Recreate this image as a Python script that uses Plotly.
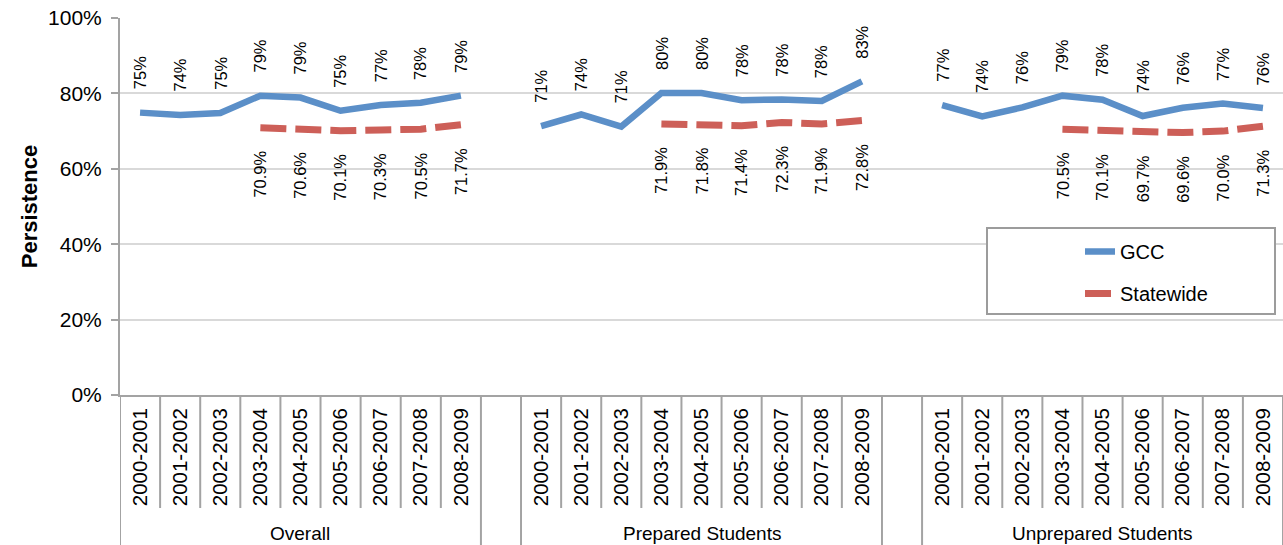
import plotly.graph_objects as go

# ---------------- data ----------------
years = ["2000-2001", "2001-2002", "2002-2003", "2003-2004", "2004-2005",
         "2005-2006", "2006-2007", "2007-2008", "2008-2009"]
groups = ["Overall", "Prepared Students", "Unprepared Students"]

gcc_overall = [74.9, 74.3, 74.8, 79.4, 78.9, 75.4, 76.9, 77.5, 79.4]
gcc_prepared = [71.3, 74.4, 71.2, 80.1, 80.1, 78.2, 78.4, 78.0, 83.2]
gcc_unprepared = [76.9, 73.9, 76.3, 79.4, 78.3, 74.0, 76.2, 77.3, 76.1]

state_overall = [None, None, None, 70.9, 70.6, 70.1, 70.3, 70.5, 71.7]
state_prepared = [None, None, None, 71.9, 71.8, 71.4, 72.3, 71.9, 72.8]
state_unprepared = [None, None, None, 70.5, 70.1, 69.7, 69.6, 70.0, 71.3]

y_ticks = [0, 20, 40, 60, 80, 100]
y_tick_labels = ["0%", "20%", "40%", "60%", "80%", "100%"]

gcc_series = [gcc_overall, gcc_prepared, gcc_unprepared]
state_series = [state_overall, state_prepared, state_unprepared]

# ---------------- styling ----------------
FONT = "Liberation Sans, Arial, Helvetica, sans-serif"
BLUE = "#5B8FC8"
RED = "#CD5F58"
GRID = "#D9D9D9"
AXIS = "#A3A3A3"

n = len(years)
slot = n + 1  # one blank category between groups
n_slots = slot * len(groups) - 1

fig = go.Figure()

# build x/y for both series with gaps between groups
gx, gy, sx, sy = [], [], [], []
tickvals, ticktext = [], []
for g, (gv, sv) in enumerate(zip(gcc_series, state_series)):
    for i in range(n):
        pos = g * slot + i
        tickvals.append(pos)
        ticktext.append(years[i])
        gx.append(pos); gy.append(gv[i])
        sx.append(pos); sy.append(sv[i])
    gx.append(None); gy.append(None)
    sx.append(None); sy.append(None)

fig.add_trace(go.Scatter(x=gx, y=gy, mode="lines", name="GCC",
                         line=dict(color=BLUE, width=6.5),
                         connectgaps=False, legendgroup="a", hoverinfo="skip"))
fig.add_trace(go.Scatter(x=sx, y=sy, mode="lines", name="Statewide",
                         line=dict(color=RED, width=7, dash="26px,9px"),
                         connectgaps=False, legendgroup="b", hoverinfo="skip"))

annotations = []
# data labels
for x, y in zip(gx, gy):
    if y is None:
        continue
    annotations.append(dict(x=x, y=y, xref="x", yref="y", text=f"{y:.0f}%",
                            textangle=-90, showarrow=False, yanchor="bottom",
                            xanchor="center", yshift=21,
                            font=dict(family=FONT, size=16.5, color="black")))
for x, y in zip(sx, sy):
    if y is None:
        continue
    annotations.append(dict(x=x, y=y, xref="x", yref="y", text=f"{y:.1f}%",
                            textangle=-90, showarrow=False, yanchor="top",
                            xanchor="center", yshift=-21,
                            font=dict(family=FONT, size=16.5, color="black")))

# group labels
plot_h = 545 - 18 - 150
for g, name in enumerate(groups):
    annotations.append(dict(x=g * slot + (n - 1) / 2, y=-(533 - 395) / plot_h,
                            xref="x", yref="paper", text=name, showarrow=False,
                            xanchor="center", yanchor="middle",
                            font=dict(family=FONT, size=19, color="black")))

# divider shapes for the category axis
shapes = []
row1_bottom = -(508 - 395) / plot_h
for b in range(n_slots + 1):
    shapes.append(dict(type="line", xref="x", yref="paper",
                       x0=b - 0.5, x1=b - 0.5, y0=0, y1=row1_bottom,
                       line=dict(color=AXIS, width=2)))
group_edges = [-0.5]
for g in range(len(groups)):
    group_edges += [g * slot + n - 0.5]
    if g < len(groups) - 1:
        group_edges += [g * slot + n + 0.5]
for b in group_edges:
    shapes.append(dict(type="line", xref="x", yref="paper",
                       x0=b, x1=b, y0=row1_bottom, y1=-0.5,
                       line=dict(color=AXIS, width=2)))

# legend frame
plot_w = 1283 - 120
shapes.append(dict(type="rect", xref="paper", yref="paper",
                   x0=(987 - 120) / plot_w, x1=(1275 - 120) / plot_w,
                   y0=(395 - 314) / plot_h, y1=(395 - 228) / plot_h,
                   fillcolor="white", line=dict(color="#9C9C9C", width=2),
                   layer="above"))

fig.update_layout(
    width=1283, height=545,
    margin=dict(l=120, r=0, t=18, b=150),
    paper_bgcolor="white", plot_bgcolor="white",
    font=dict(family=FONT, color="black"),
    showlegend=True,
    legend=dict(x=(1080 - 120) / plot_w, y=(395 - 232) / plot_h,
                xanchor="left", yanchor="top", bgcolor="rgba(0,0,0,0)",
                borderwidth=0, font=dict(family=FONT, size=20, color="black"),
                traceorder="grouped", tracegroupgap=13),
    xaxis=dict(range=[-0.5, n_slots - 0.5], tickmode="array",
               tickvals=tickvals, ticktext=ticktext, tickangle=-90,
               showgrid=False, zeroline=False, showline=True,
               linecolor=AXIS, linewidth=2, ticks="",
               ticklabelstandoff=3,
               tickfont=dict(family=FONT, size=20.5, color="black")),
    yaxis=dict(range=[0, 100], tickmode="array", tickvals=y_ticks,
               ticktext=y_tick_labels,
               showgrid=True, gridcolor=GRID, gridwidth=2, zeroline=False,
               showline=True, linecolor=AXIS, linewidth=2,
               ticks="outside", ticklen=7, tickwidth=2, tickcolor=AXIS,
               ticklabelstandoff=5,
               tickfont=dict(family=FONT, size=21, color="black")),
    annotations=annotations, shapes=shapes,
)
fig.update_yaxes(title=dict(text="<b>Persistence</b>", standoff=4,
                            font=dict(family=FONT, size=22, color="black")))

fig.write_html("out.html",
               config={"displayModeBar": False},
               post_script="document.body.style.margin='0';"
                           "document.body.style.overflow='hidden';")
